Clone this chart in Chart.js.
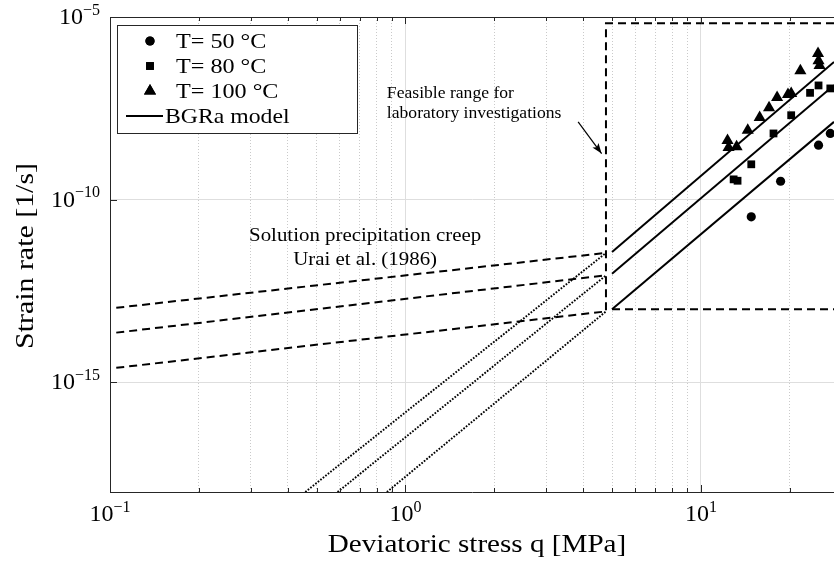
<!DOCTYPE html>
<html>
<head>
<meta charset="utf-8">
<script src="https://cdn.jsdelivr.net/npm/chart.js@4.4.1/dist/chart.umd.min.js"></script>
<style>
  html, body { margin: 0; padding: 0; background: #fff; overflow: hidden; }
  #wrap { width: 834px; height: 565px; }
</style>
</head>
<body>
<div id="wrap"><canvas id="creepChart" width="834" height="565"></canvas></div>
<script>
// measured creep rates, q in MPa, rate in 1/s
const q50 = [14.8, 18.6, 25.0, 27.4];
const rate50 = [3.4e-11, 3.2e-10, 3.1e-9, 6.5e-9];
const q80 = [12.9, 13.3, 14.8, 17.6, 20.2, 23.4, 25.0, 27.4];
const rate80 = [3.6e-10, 3.3e-10, 9.3e-10, 6.5e-9, 2.05e-8, 8.4e-8, 1.34e-7, 1.11e-7];
const q100 = [12.3, 12.4, 13.2, 14.4, 15.8, 17.0, 18.1, 19.7, 20.2, 21.7, 24.9, 25.0, 25.2];
const rate100 = [4.2e-9, 2.7e-9, 2.8e-9, 8.0e-9, 1.77e-8, 3.3e-8, 6.3e-8, 7.6e-8, 8.1e-8, 3.4e-7, 1.0e-6, 6.3e-7, 4.7e-7];

// BGRa model lines (solid), start at q = 5 MPa
const bgraQ = [5, 28.2];
const bgra50 = [1.0e-13, 1.35e-8];
const bgra80 = [9.4e-13, 1.36e-7];
const bgra100 = [3.7e-12, 5.9e-7];

// Urai et al. (1986) solution precipitation creep (dashed)
const uraiQ = [0.105, 4.77];
const urai50 = [2.5e-15, 8.75e-14];
const urai80 = [2.3e-14, 8.5e-13];
const urai100 = [1.1e-13, 3.5e-12];

// BGRa extrapolated to low stress (dotted)
const extQ50 = [0.865, 4.77];
const extQ80 = [0.589, 4.77];
const extQ100 = [0.458, 4.77];
const ext50 = [1e-18, 8.75e-14];
const ext80 = [1e-18, 8.5e-13];
const ext100 = [1e-18, 3.5e-12];

// lab range outline
const boxQ = [28.2, 4.77, 4.77, 28.2];
const boxRate = [6.7e-6, 6.7e-6, 1e-13, 1e-13];

const xTickExp = [-1, 0, 1];
const yTickExp = [-15, -10, -5];

const legendLabels = ['T= 50 °C', 'T= 80 °C', 'T= 100 °C', 'BGRa model'];

const notes = [
  { lines: ['Feasible range for', 'laboratory investigations'], q: 0.865, rate: 8.9e-8, align: 'left', size: 16, stretch: 1.1, gap: 20 },
  { lines: ['Solution precipitation creep', 'Urai et al. (1986)'], q: 0.73, rate: 1.06e-11, align: 'center', size: 19, stretch: 1.1, gap: 24 }
];
const arrowFrom = [3.84, 1.35e-8];
const arrowTo = [4.61, 1.83e-9];

const FONT = '"Liberation Serif", "Times New Roman", serif';
const INK = '#262626';

function pts(xs, ys) {
  return xs.map((x, i) => ({ x: x, y: ys[i] }));
}

function isDecade(v) {
  const l = Math.log10(v);
  return Math.abs(l - Math.round(l)) < 1e-6;
}

function lineSet(xs, ys, dash, width) {
  return {
    data: pts(xs, ys), borderColor: '#000', borderWidth: width, borderDash: dash,
    pointRadius: 0, showLine: true, fill: false, tension: 0
  };
}

function markerSet(label, xs, ys, style, r) {
  return {
    label: label, inLegend: true, data: pts(xs, ys), showLine: false,
    pointStyle: style, pointRadius: r, pointHoverRadius: r,
    pointBackgroundColor: '#000', pointBorderColor: '#000', pointBorderWidth: 0
  };
}

function drawText(ctx, str, x, y, size, align, stretch) {
  ctx.save();
  ctx.font = size + 'px ' + FONT;
  ctx.textBaseline = 'alphabetic';
  ctx.textAlign = 'left';
  const w = ctx.measureText(str).width * stretch;
  const x0 = align === 'center' ? x - w / 2 : (align === 'right' ? x - w : x);
  ctx.translate(x0, y);
  ctx.scale(stretch, 1);
  ctx.fillStyle = '#000';
  ctx.fillText(str, 0, 0);
  ctx.restore();
  return w;
}

// "10" with a raised exponent
function drawPow(ctx, exp, x, y, align) {
  ctx.save();
  ctx.font = '24px ' + FONT;
  const wb = ctx.measureText('10').width;
  const es = exp < 0 ? '\u2212' + (-exp) : String(exp);
  ctx.font = '16px ' + FONT;
  const we = ctx.measureText(es).width;
  ctx.restore();
  const total = wb + we;
  const x0 = align === 'center' ? x - total / 2 : (align === 'right' ? x - total : x);
  drawText(ctx, '10', x0, y, 24, 'left', 1);
  drawText(ctx, es, x0 + wb, y - 9.5, 16, 'left', 1);
}

const decor = {
  id: 'decor',
  afterDraw(chart) {
    const ctx = chart.ctx;
    const a = chart.chartArea;
    const xs = chart.scales.x, ys = chart.scales.y;

    // top border
    ctx.save();
    ctx.strokeStyle = INK;
    ctx.lineWidth = 1;
    ctx.beginPath();
    ctx.moveTo(a.left, a.top + 0.5);
    ctx.lineTo(a.right, a.top + 0.5);
    ctx.stroke();

    // inward ticks
    xs.ticks.forEach(t => {
      const px = Math.round(xs.getPixelForValue(t.value)) + 0.5;
      const len = isDecade(t.value) ? 7 : 4;
      ctx.beginPath();
      ctx.moveTo(px, a.bottom); ctx.lineTo(px, a.bottom - len);
      ctx.moveTo(px, a.top); ctx.lineTo(px, a.top + len);
      ctx.stroke();
    });
    ys.ticks.forEach(t => {
      const py = Math.round(ys.getPixelForValue(t.value)) + 0.5;
      ctx.beginPath();
      ctx.moveTo(a.left, py); ctx.lineTo(a.left + 7, py);
      ctx.stroke();
    });
    ctx.restore();

    // tick labels
    xTickExp.forEach(e => drawPow(ctx, e, xs.getPixelForValue(Math.pow(10, e)), 521, 'center'));
    yTickExp.forEach(e => drawPow(ctx, e, 100, ys.getPixelForValue(Math.pow(10, e)) + 7, 'right'));

    // axis titles
    drawText(ctx, 'Deviatoric stress q [MPa]', 477, 552, 26, 'center', 1.12);
    ctx.save();
    ctx.translate(33, 256);
    ctx.rotate(-Math.PI / 2);
    drawText(ctx, 'Strain rate [1/s]', 0, 0, 26, 'center', 1.15);
    ctx.restore();

    // notes and arrow
    notes.forEach(n => {
      const px = xs.getPixelForValue(n.q);
      const py = ys.getPixelForValue(n.rate);
      n.lines.forEach((s, i) => drawText(ctx, s, px, py + 6 + i * n.gap, n.size, n.align, n.stretch));
    });
    const ax0 = xs.getPixelForValue(arrowFrom[0]), ay0 = ys.getPixelForValue(arrowFrom[1]);
    const ax1 = xs.getPixelForValue(arrowTo[0]), ay1 = ys.getPixelForValue(arrowTo[1]);
    const ang = Math.atan2(ay1 - ay0, ax1 - ax0);
    ctx.save();
    ctx.strokeStyle = '#000';
    ctx.fillStyle = '#000';
    ctx.lineWidth = 1.2;
    ctx.beginPath();
    ctx.moveTo(ax0, ay0); ctx.lineTo(ax1, ay1);
    ctx.stroke();
    ctx.beginPath();
    ctx.moveTo(ax1, ay1);
    ctx.lineTo(ax1 - 11 * Math.cos(ang - 0.35), ay1 - 11 * Math.sin(ang - 0.35));
    ctx.lineTo(ax1 - 8 * Math.cos(ang), ay1 - 8 * Math.sin(ang));
    ctx.lineTo(ax1 - 11 * Math.cos(ang + 0.35), ay1 - 11 * Math.sin(ang + 0.35));
    ctx.closePath();
    ctx.fill();
    ctx.restore();

    // legend
    const lx = a.left + 7, ly = a.top + 8, lw = 240, lh = 108;
    ctx.save();
    ctx.fillStyle = '#fff';
    ctx.fillRect(lx, ly, lw, lh);
    ctx.strokeStyle = INK;
    ctx.lineWidth = 1;
    ctx.strokeRect(lx + 0.5, ly + 0.5, lw, lh);
    ctx.restore();
    const items = chart.data.datasets.filter(d => d.inLegend);
    items.forEach((d, i) => {
      const cy = ly + 16 + i * 25;
      ctx.save();
      ctx.fillStyle = '#000';
      ctx.strokeStyle = '#000';
      if (d.showLine) {
        ctx.lineWidth = d.borderWidth;
        ctx.beginPath();
        ctx.moveTo(lx + 9, cy); ctx.lineTo(lx + 46, cy);
        ctx.stroke();
        ctx.restore();
        drawText(ctx, d.label, lx + 48, cy + 7, 21, 'left', 1.13);
      } else {
        Chart.helpers.drawPoint(ctx, { pointStyle: d.pointStyle, radius: d.pointRadius, borderWidth: 0 }, lx + 33, cy);
        ctx.fill();
        ctx.restore();
        drawText(ctx, d.label, lx + 59, cy + 7, 21, 'left', 1.15);
      }
    });
  }
};

const bgraLegend = lineSet(bgraQ, bgra100, [], 2);
bgraLegend.label = legendLabels[3];
bgraLegend.inLegend = true;

new Chart(document.getElementById('creepChart'), {
  type: 'line',
  data: {
    datasets: [
      markerSet(legendLabels[0], q50, rate50, 'circle', 4.6),
      markerSet(legendLabels[1], q80, rate80, 'rect', 5.5),
      markerSet(legendLabels[2], q100, rate100, 'triangle', 7),
      bgraLegend,
      lineSet(bgraQ, bgra80, [], 2),
      lineSet(bgraQ, bgra50, [], 2),
      lineSet(uraiQ, urai100, [8, 5], 2),
      lineSet(uraiQ, urai80, [8, 5], 2),
      lineSet(uraiQ, urai50, [8, 5], 2),
      lineSet(extQ100, ext100, [1.7, 1.5], 1.9),
      lineSet(extQ80, ext80, [1.7, 1.5], 1.9),
      lineSet(extQ50, ext50, [1.7, 1.5], 1.9),
      lineSet(boxQ, boxRate, [8, 5], 2)
    ]
  },
  options: {
    responsive: false,
    animation: false,
    devicePixelRatio: 1,
    layout: { autoPadding: false, padding: { top: 17, right: 0, left: 0, bottom: 0 } },
    plugins: { legend: { display: false }, tooltip: { enabled: false } },
    scales: {
      x: {
        type: 'logarithmic', min: 0.1, max: 28.2,
        afterBuildTicks: s => { s.ticks = s.ticks.filter(t => {
          const m = t.value / Math.pow(10, Math.floor(Math.log10(t.value) + 1e-9));
          return Math.abs(m - Math.round(m)) < 1e-6;
        }); },
        afterFit: s => { s.height = 73; },
        ticks: { display: false },
        grid: {
          drawTicks: false,
          color: c => (c.tick && isDecade(c.tick.value)) ? '#dedede' : '#cacaca',
          lineWidth: 1
        },
        border: { color: INK, width: 1, dash: c => (c.tick && !isDecade(c.tick.value)) ? [1, 2] : [] }
      },
      y: {
        type: 'logarithmic', min: 1e-18, max: 1e-5,
        afterBuildTicks: s => { s.ticks = yTickExp.map(e => ({ value: Math.pow(10, e), major: true })); },
        afterFit: s => { s.width = 110; },
        ticks: { display: false },
        grid: { drawTicks: false, color: '#dedede', lineWidth: 1 },
        border: { color: INK, width: 1 }
      }
    }
  },
  plugins: [decor]
});
</script>
</body>
</html>
